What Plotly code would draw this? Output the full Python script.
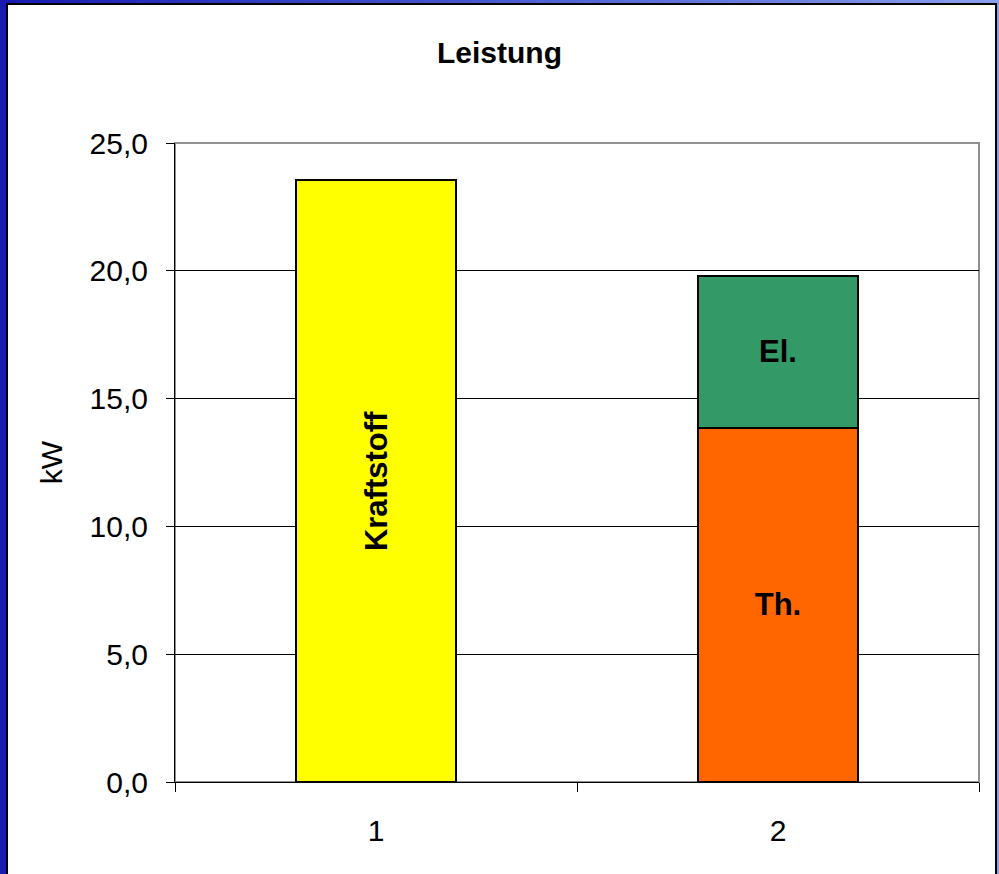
import plotly.graph_objects as go

# Power balance (kW): fuel input vs. electrical + thermal output
categories = [1, 2]
kraftstoff = [23.55, None]
thermisch = [None, 13.85]
elektrisch = [None, 5.95]
ytick_vals = [0, 5, 10, 15, 20, 25]

W, H = 999, 874

# Blue gradient backdrop for the slide frame
bg_svg = (
    "data:image/svg+xml;utf8,"
    "<svg xmlns='http://www.w3.org/2000/svg' width='999' height='874'>"
    "<defs><linearGradient id='g' x1='0' y1='0' x2='1' y2='0'>"
    "<stop offset='0' stop-color='%231a1ab0'/>"
    "<stop offset='0.5' stop-color='%234a5ad0'/>"
    "<stop offset='1' stop-color='%238aa0ec'/>"
    "</linearGradient></defs>"
    "<rect width='999' height='874' fill='url(%23g)'/></svg>"
)

FAMILY = "Liberation Sans, Arial"
font = dict(family=FAMILY, size=30, color="black")
label_font = dict(family=FAMILY, size=31, color="black")

fig = go.Figure()

bar_line = dict(color="black", width=2)
fig.add_trace(go.Bar(x=categories, y=kraftstoff, marker=dict(color="#FFFF00", line=bar_line),
                     width=0.4, text=["Kraftstoff", ""], textposition="inside",
                     insidetextanchor="middle", textangle=-90, textfont=label_font,
                     texttemplate="<b>%{text}</b>", showlegend=False, hoverinfo="y"))
fig.add_trace(go.Bar(x=categories, y=thermisch, marker=dict(color="#FF6600", line=bar_line),
                     width=0.4, text=["", "Th."], textposition="inside",
                     insidetextanchor="middle", textangle=0, textfont=label_font,
                     texttemplate="<b>%{text}</b>", showlegend=False, hoverinfo="y"))
fig.add_trace(go.Bar(x=categories, y=elektrisch, marker=dict(color="#339966", line=bar_line),
                     width=0.4, text=["", "El."], textposition="inside",
                     insidetextanchor="middle", textangle=0, textfont=label_font,
                     texttemplate="<b>%{text}</b>", showlegend=False, hoverinfo="y"))

fig.update_layout(
    width=W, height=H,
    barmode="stack",
    separators=",.",
    paper_bgcolor="#2a2ab8",
    plot_bgcolor="#C0C0C0",
    margin=dict(l=175, r=20, t=143, b=92),
    font=font,
    title=dict(text="<b>Leistung</b>", x=0.5, xanchor="center", y=1 - 52 / H, yanchor="middle",
               font=dict(family=FAMILY, size=30, color="black")),
    xaxis=dict(range=[0.5, 2.5], tickvals=categories, ticktext=[str(c) for c in categories],
               ticks="", showgrid=False, zeroline=False, showline=True, linecolor="black",
               linewidth=1, tickfont=font, ticklabelstandoff=22,
               minor=dict(ticks="outside", tick0=0.5, dtick=1, ticklen=9, tickcolor="black",
                          showgrid=False)),
    yaxis=dict(range=[0, 25], tickvals=ytick_vals, tickformat=".1f", ticks="outside",
               ticklen=8, tickcolor="black", showgrid=True, gridcolor="black", gridwidth=1,
               zeroline=False, showline=True, linecolor="black", linewidth=1, tickfont=font,
               ticklabelstandoff=12,
               title=dict(text="kW", font=font, standoff=18)),
    images=[dict(source=bg_svg, xref="paper", yref="paper", x=-175 / 804, y=1 + 143 / 639,
                 sizex=W / 804, sizey=H / 639, xanchor="left", yanchor="top",
                 sizing="stretch", layer="below")],
    shapes=[
        # white slide panel with dark edge
        dict(type="rect", xref="paper", yref="paper",
             x0=-168 / 804, x1=(996 - 175) / 804, y0=-100 / 639, y1=1 + 139 / 639,
             fillcolor="white", line=dict(color="black", width=2), layer="below"),
        # grey plot-area frame
        dict(type="rect", xref="paper", yref="paper", x0=0, x1=1, y0=0, y1=1,
             line=dict(color="#909090", width=2), fillcolor="rgba(0,0,0,0)", layer="below"),
    ],
)

fig.write_html("out.html")
